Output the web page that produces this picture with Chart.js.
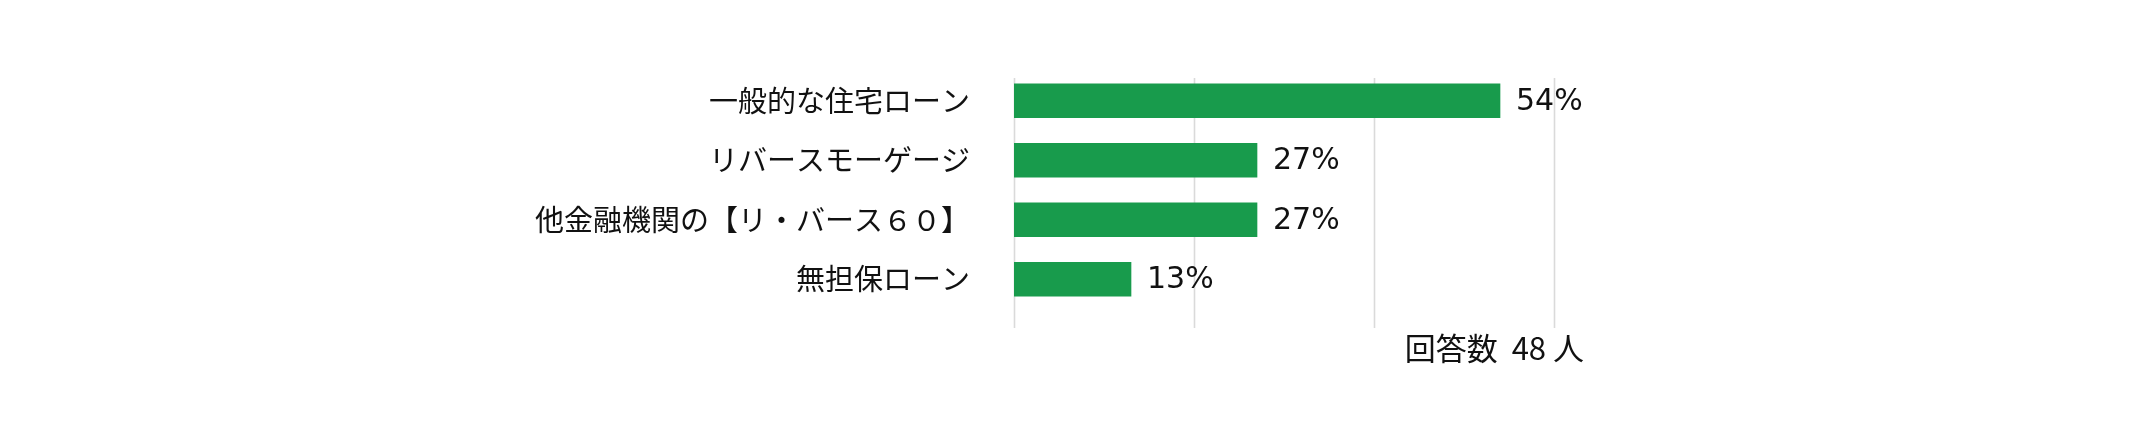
<!DOCTYPE html>
<html>
<head>
<meta charset="utf-8">
<script src="https://cdn.jsdelivr.net/npm/chart.js@4/dist/chart.umd.min.js"></script>
<style>
  html, body { margin: 0; padding: 0; background: #ffffff; }
  #wrap { width: 2144px; height: 440px; position: relative; }
</style>
</head>
<body>
<div id="wrap"><canvas id="c" width="2144" height="440"></canvas></div>
<script>
const categories = ["一般的な住宅ローン", "リバースモーゲージ", "他金融機関の【リ・バース６０】", "無担保ローン"];
const values = [54, 27, 27, 13];
const xTicks = [0, 20, 40, 60];
const footnote = "回答数  48 人";

const FONT = '"Noto Sans CJK JP", "Noto Sans", sans-serif';
const NUMFONT = '"DejaVu Sans", "Noto Sans", sans-serif';
const GREEN = '#189b4c';

const gridPlugin = {
  id: 'gridPlugin',
  beforeDatasetsDraw(chart) {
    const { ctx, chartArea, scales } = chart;
    ctx.save();
    ctx.strokeStyle = '#dadada';
    ctx.lineWidth = 1.6;
    xTicks.forEach(t => {
      const x = Math.round(scales.x.getPixelForValue(t)) + 0.5;
      ctx.beginPath();
      ctx.moveTo(x, chartArea.top + 7);
      ctx.lineTo(x, chartArea.bottom + 19);
      ctx.stroke();
    });
    ctx.restore();
  }
};

const labelPlugin = {
  id: 'labelPlugin',
  afterDatasetsDraw(chart) {
    const { ctx, scales } = chart;
    const meta = chart.getDatasetMeta(0);
    ctx.save();
    ctx.fillStyle = '#111111';
    ctx.font = '30px ' + NUMFONT;
    ctx.textAlign = 'left';
    ctx.textBaseline = 'middle';
    meta.data.forEach((bar, i) => {
      ctx.fillText(values[i] + '%', bar.x + 16, bar.y + 1);
    });
    ctx.font = '31px ' + FONT;
    ctx.textAlign = 'right';
    ctx.fillText(footnote, scales.x.getPixelForValue(xTicks[xTicks.length - 1]) + 30, chart.chartArea.bottom + 39);
    ctx.restore();
  }
};

new Chart(document.getElementById('c'), {
  type: 'bar',
  data: {
    labels: categories,
    datasets: [{
      data: values,
      backgroundColor: GREEN,
      borderWidth: 0,
      barThickness: 34
    }]
  },
  options: {
    indexAxis: 'y',
    responsive: false,
    animation: false,
    devicePixelRatio: 1,
    layout: { padding: { top: 71, right: 590, bottom: 131, left: 0 } },
    plugins: { legend: { display: false }, tooltip: { enabled: false } },
    scales: {
      x: {
        display: false,
        min: 0,
        max: 60,
        ticks: { stepSize: 20 }
      },
      y: {
        afterFit(scale) { scale.width = 1014; },
        grid: { display: false, drawTicks: false },
        border: { display: false },
        ticks: {
          padding: 44,
          color: '#111111',
          font: { family: FONT, size: 29 }
        }
      }
    }
  },
  plugins: [gridPlugin, labelPlugin]
});
</script>
</body>
</html>
